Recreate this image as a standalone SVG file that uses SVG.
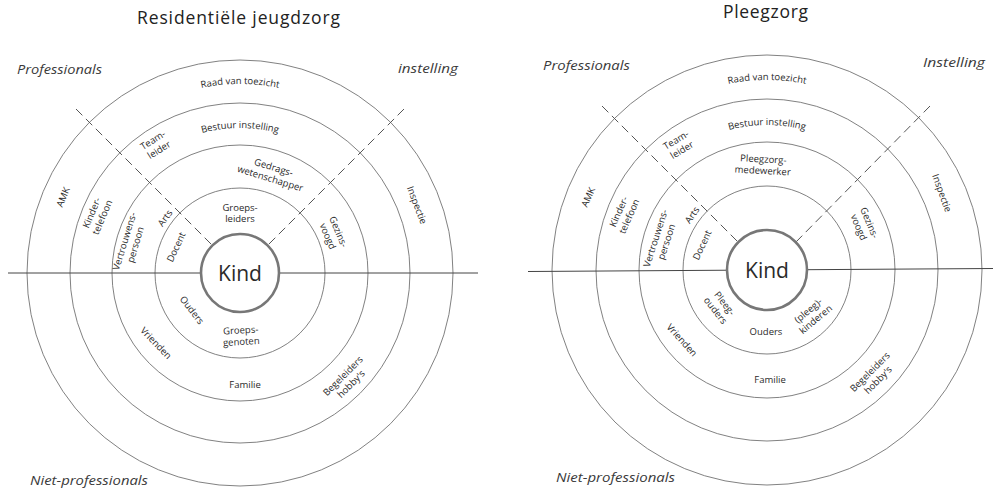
<svg xmlns="http://www.w3.org/2000/svg" width="993" height="491" viewBox="0 0 993 491">
<style>
text{font-family:"Open Sans","Liberation Sans",sans-serif;fill:#2a2a2a}
.lbl{font-size:9.5px;text-anchor:middle}
.title{font-size:17.5px;text-anchor:middle;fill:#222}
.corner{font-size:13px;font-style:italic;fill:#3a3a3a}
.kindtxt{font-size:21px;text-anchor:middle}
.ring{fill:none;stroke:#6a6a6a;stroke-width:0.85}
.axis{stroke:#444;stroke-width:1;fill:none}
.div{stroke:#555;stroke-width:1;stroke-dasharray:9 5;fill:none}
.kind{fill:#fff;stroke:#777;stroke-width:2.6}
</style>
<defs>
<path id="arcL1" d="M 51,273 A 189 189 0 0 1 429,273"/>
<path id="arcL2" d="M 95,273 A 145 145 0 0 1 385,273"/>
<path id="arcR1" d="M 577,270 A 190 190 0 0 1 957,270"/>
<path id="arcR2" d="M 622,270 A 145 145 0 0 1 912,270"/>
</defs>

<!-- titles and corner labels -->
<g id="titles">
<text class="title" x="238.5" y="24" textLength="203" lengthAdjust="spacing">Residentiële jeugdzorg</text>
<text class="title" x="765.5" y="18" textLength="85" lengthAdjust="spacing">Pleegzorg</text>
<text class="corner" x="17" y="74" textLength="85" lengthAdjust="spacingAndGlyphs">Professionals</text>
<text class="corner" x="398" y="73" textLength="60" lengthAdjust="spacingAndGlyphs">instelling</text>
<text class="corner" x="30" y="485" textLength="118" lengthAdjust="spacingAndGlyphs">Niet-professionals</text>
<text class="corner" x="543" y="70" textLength="87" lengthAdjust="spacingAndGlyphs">Professionals</text>
<text class="corner" x="923" y="67" textLength="62" lengthAdjust="spacingAndGlyphs">Instelling</text>
<text class="corner" x="556" y="482" textLength="119" lengthAdjust="spacingAndGlyphs">Niet-professionals</text>
</g>

<!-- LEFT DIAGRAM -->
<g id="left-rings">
<circle class="ring" cx="240" cy="273" r="85"/>
<circle class="ring" cx="240" cy="273" r="128"/>
<circle class="ring" cx="240" cy="273" r="170"/>
<circle class="ring" cx="240" cy="273" r="213"/>
</g>
<g id="left-connectors">
<line class="axis" x1="8" y1="273" x2="478" y2="273"/>
<line class="div" x1="76" y1="109" x2="212" y2="245"/>
<line class="div" x1="404" y1="109" x2="268" y2="245"/>
</g>
<g id="left-kind">
<circle class="kind" cx="240" cy="273" r="39"/>
<text class="kindtxt" x="240" y="280.5">Kind</text>
</g>
<g id="left-raad"><text class="lbl"><textPath href="#arcL1" startOffset="50%">Raad van toezicht</textPath></text></g>
<g id="left-bestuur"><text class="lbl"><textPath href="#arcL2" startOffset="50%">Bestuur instelling</textPath></text></g>
<g id="left-amk" transform="translate(63,197) rotate(-67)"><text class="lbl" y="3.4">AMK</text></g>
<g id="left-inspectie" transform="translate(417,205) rotate(69)"><text class="lbl" y="3.4">Inspectie</text></g>
<g id="left-kindertelefoon" transform="translate(97,215) rotate(-67)"><text class="lbl"><tspan x="0" y="-2.5">Kinder-</tspan><tspan x="0" y="9">telefoon</tspan></text></g>
<g id="left-teamleider" transform="translate(156,145) rotate(-32)"><text class="lbl"><tspan x="0" y="-2.5">Team-</tspan><tspan x="0" y="9">leider</tspan></text></g>
<g id="left-gedrags" transform="translate(272,173) rotate(17)"><text class="lbl"><tspan x="0" y="-2.5">Gedrags-</tspan><tspan x="0" y="9">wetenschapper</tspan></text></g>
<g id="left-groepsleiders" transform="translate(240,213)"><text class="lbl"><tspan x="0" y="-2.5">Groeps-</tspan><tspan x="0" y="9">leiders</tspan></text></g>
<g id="left-arts" transform="translate(165,218) rotate(-54)"><text class="lbl" y="3.4">Arts</text></g>
<g id="left-vertrouwens" transform="translate(130,243) rotate(-73)"><text class="lbl"><tspan x="0" y="-2.5">Vertrouwens-</tspan><tspan x="0" y="9">persoon</tspan></text></g>
<g id="left-docent" transform="translate(176,247) rotate(-65)"><text class="lbl" y="3.4">Docent</text></g>
<g id="left-gezinsvoogd" transform="translate(333,234) rotate(67)"><text class="lbl"><tspan x="0" y="-2.5">Gezins-</tspan><tspan x="0" y="9">voogd</tspan></text></g>
<g id="left-ouders" transform="translate(192,310) rotate(52)"><text class="lbl" y="3.4">Ouders</text></g>
<g id="left-groepsgenoten" transform="translate(241,336) rotate(-3)"><text class="lbl"><tspan x="0" y="-2.5">Groeps-</tspan><tspan x="0" y="9">genoten</tspan></text></g>
<g id="left-vrienden" transform="translate(156,343) rotate(46)"><text class="lbl" y="3.4">Vrienden</text></g>
<g id="left-familie" transform="translate(245,385)"><text class="lbl" y="3.4">Familie</text></g>
<g id="left-begeleiders" transform="translate(347,380) rotate(-45)"><text class="lbl"><tspan x="0" y="-2.5">Begeleiders</tspan><tspan x="0" y="9">hobby's</tspan></text></g>

<!-- RIGHT DIAGRAM -->
<g id="right-rings">
<circle class="ring" cx="767" cy="270" r="84"/>
<circle class="ring" cx="767" cy="270" r="128"/>
<circle class="ring" cx="767" cy="270" r="171"/>
<circle class="ring" cx="767" cy="270" r="215"/>
</g>
<g id="right-connectors">
<line class="axis" x1="528" y1="271.5" x2="993" y2="268.5"/>
<line class="div" x1="602" y1="106" x2="739" y2="243"/>
<line class="div" x1="930" y1="106" x2="795" y2="243"/>
</g>
<g id="right-kind">
<circle class="kind" cx="767" cy="270" r="40"/>
<text class="kindtxt" x="767" y="277.5">Kind</text>
</g>
<g id="right-raad"><text class="lbl"><textPath href="#arcR1" startOffset="50%">Raad van toezicht</textPath></text></g>
<g id="right-bestuur"><text class="lbl"><textPath href="#arcR2" startOffset="50%">Bestuur instelling</textPath></text></g>
<g id="right-amk" transform="translate(588,197) rotate(-66)"><text class="lbl" y="3.4">AMK</text></g>
<g id="right-inspectie" transform="translate(942,193) rotate(70)"><text class="lbl" y="3.4">Inspectie</text></g>
<g id="right-kindertelefoon" transform="translate(624,214) rotate(-66)"><text class="lbl"><tspan x="0" y="-2.5">Kinder-</tspan><tspan x="0" y="9">telefoon</tspan></text></g>
<g id="right-teamleider" transform="translate(679,145) rotate(-31)"><text class="lbl"><tspan x="0" y="-2.5">Team-</tspan><tspan x="0" y="9">leider</tspan></text></g>
<g id="right-pleegzorgmedewerker" transform="translate(763,165) rotate(3)"><text class="lbl"><tspan x="0" y="-2.5">Pleegzorg-</tspan><tspan x="0" y="9">medewerker</tspan></text></g>
<g id="right-arts" transform="translate(692,215) rotate(-55)"><text class="lbl" y="3.4">Arts</text></g>
<g id="right-vertrouwens" transform="translate(661,240) rotate(-72)"><text class="lbl"><tspan x="0" y="-2.5">Vertrouwens-</tspan><tspan x="0" y="9">persoon</tspan></text></g>
<g id="right-docent" transform="translate(702,245) rotate(-65)"><text class="lbl" y="3.4">Docent</text></g>
<g id="right-gezinsvoogd" transform="translate(864,225) rotate(67)"><text class="lbl"><tspan x="0" y="-2.5">Gezins-</tspan><tspan x="0" y="9">voogd</tspan></text></g>
<g id="right-pleegouders" transform="translate(720,307) rotate(52)"><text class="lbl"><tspan x="0" y="-2.5">Pleeg-</tspan><tspan x="0" y="9">ouders</tspan></text></g>
<g id="right-ouders" transform="translate(766,332)"><text class="lbl" y="3.4">Ouders</text></g>
<g id="right-pleegkinderen" transform="translate(812,315) rotate(-40)"><text class="lbl"><tspan x="0" y="-2.5">(pleeg)-</tspan><tspan x="0" y="9">kinderen</tspan></text></g>
<g id="right-vrienden" transform="translate(682,340) rotate(48)"><text class="lbl" y="3.4">Vrienden</text></g>
<g id="right-familie" transform="translate(770,380)"><text class="lbl" y="3.4">Familie</text></g>
<g id="right-begeleiders" transform="translate(874,376) rotate(-45)"><text class="lbl"><tspan x="0" y="-2.5">Begeleiders</tspan><tspan x="0" y="9">hobby's</tspan></text></g>
</svg>
